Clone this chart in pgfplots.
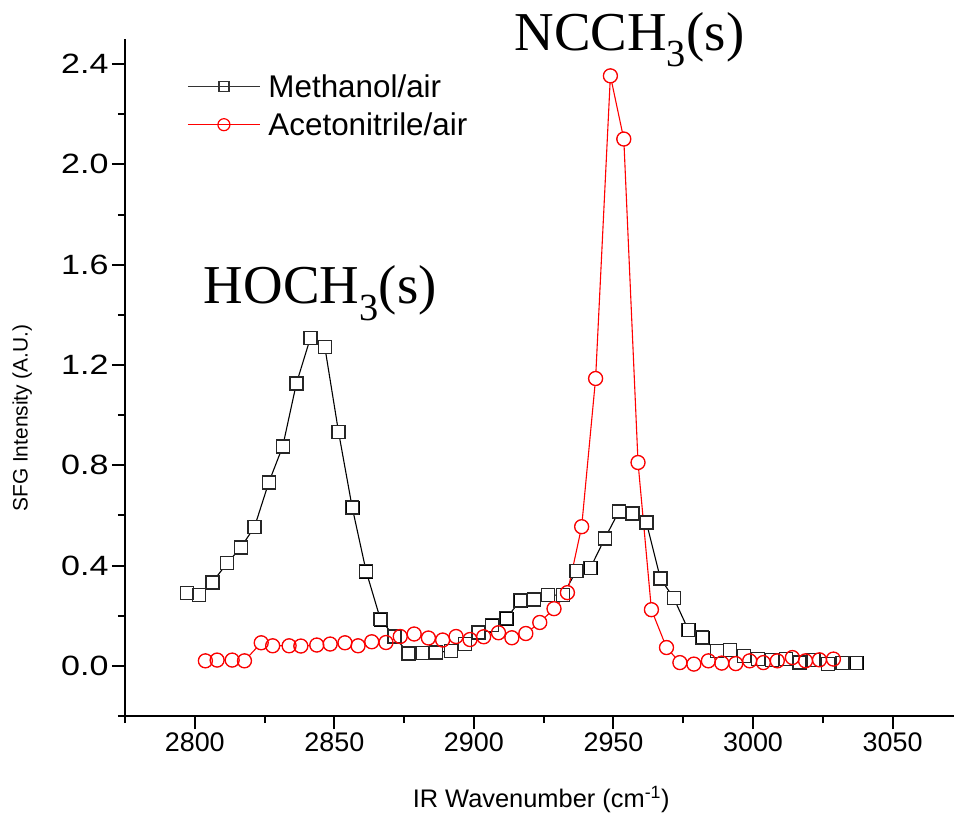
\documentclass[border=0pt]{standalone}
\usepackage{pgfplots}
\pgfplotsset{compat=1.18}
\usepackage{pgfplotstable}
\usepackage{fontspec}
\setmainfont{Liberation Sans}
\newfontfamily\seriffont{Liberation Serif}
\newfontfamily\widefont[FakeStretch=1.22]{Liberation Sans}

% SFG spectra: wavenumber (cm^-1) and intensity (A.U.)
\pgfplotstableread{
x y
2797.2 0.290
2801.4 0.282
2806.3 0.333
2811.6 0.410
2816.5 0.472
2821.4 0.554
2826.5 0.731
2831.5 0.875
2836.4 1.126
2841.4 1.307
2846.6 1.271
2851.5 0.933
2856.4 0.632
2861.4 0.377
2866.5 0.186
2871.5 0.117
2876.6 0.049
2881.6 0.052
2886.4 0.053
2891.8 0.060
2896.8 0.087
2901.6 0.133
2906.4 0.162
2911.6 0.190
2916.6 0.260
2921.5 0.264
2926.6 0.282
2931.9 0.282
2936.7 0.379
2941.7 0.390
2946.9 0.508
2951.9 0.615
2956.8 0.608
2961.8 0.572
2966.8 0.349
2971.6 0.270
2976.8 0.144
2981.8 0.113
2987.0 0.060
2991.7 0.063
2996.8 0.040
3001.7 0.027
3006.7 0.023
3011.7 0.027
3016.6 0.013
3021.7 0.023
3026.8 0.007
3032.1 0.011
3037.0 0.012
}\methanol

\pgfplotstableread{
x y
2803.8 0.020
2808.0 0.023
2813.4 0.023
2817.8 0.020
2823.8 0.092
2827.9 0.080
2833.8 0.080
2838.0 0.079
2843.7 0.083
2848.5 0.087
2853.8 0.092
2858.5 0.080
2863.4 0.096
2868.5 0.093
2873.6 0.117
2878.6 0.127
2883.7 0.111
2888.8 0.103
2893.6 0.117
2898.6 0.105
2903.5 0.116
2908.8 0.132
2913.6 0.112
2918.6 0.129
2923.6 0.173
2928.7 0.228
2933.5 0.292
2938.6 0.555
2943.6 1.146
2948.9 2.353
2953.7 2.101
2958.8 0.811
2963.6 0.224
2969.0 0.073
2973.8 0.013
2978.8 0.007
2984.0 0.020
2988.8 0.011
2993.8 0.009
2998.8 0.020
3003.7 0.013
3008.7 0.020
3014.1 0.033
3018.8 0.020
3023.8 0.024
3028.8 0.027
}\acetonitrile

\begin{document}
\begin{tikzpicture}
\begin{axis}[
  at={(0,0)}, anchor=south west,
  scale only axis,
  width=829bp, height=677bp,
  xmin=2775, xmax=3072,
  ymin=-0.2, ymax=2.5,
  axis x line*=bottom,
  axis y line*=left,
  axis line style={line width=2.2bp, black},
  xtick={2800,2850,...,3050},
  minor xtick={2775,2825,...,3075},
  ytick={0,0.4,...,2.41},
  minor ytick={-0.2,0.2,0.6,1.0,1.4,1.8,2.2},
  tick align=outside,
  major tick length=13bp,
  minor tick length=7bp,
  tick style={line width=2bp, black},
  /pgf/number format/assume math mode=true,
  xticklabel style={/pgf/number format/1000 sep={}, font=\fontsize{27}{30}\selectfont},
  yticklabel style={/pgf/number format/fixed, /pgf/number format/fixed zerofill,
    /pgf/number format/precision=1, font=\widefont\fontsize{28}{31}\selectfont},
  xlabel={IR Wavenumber (cm\textsuperscript{-1})},
  ylabel={SFG Intensity (A.U.)},
  xlabel style={font=\fontsize{25.5}{29}\selectfont, at={(axis description cs:0.502,-0.124)}, anchor=center},
  ylabel style={font=\fontsize{21}{24}\selectfont, at={(axis description cs:-0.124,0.44)}, anchor=center},
  legend style={at={(0.075,0.951)}, anchor=north west, draw=none, fill=none,
    font=\fontsize{31.5}{35}\selectfont, row sep=10bp, inner sep=0pt,
    /tikz/every odd column/.append style={column sep=6bp}},
  legend cell align=left,
  legend image code/.code={
    \draw[mark repeat=2, mark phase=2, #1] plot coordinates {(0bp,0bp) (36bp,0bp) (72bp,0bp)};
  },
  clip=false,
]
% connecting lines
\addplot[black, line width=1.1bp, forget plot] table[x=x, y=y] {\methanol};
\addplot[red, line width=1.1bp, forget plot] table[x=x, y=y] {\acetonitrile};
% hollow markers: white interiors first, then outlines
\addplot[only marks, mark=square*, mark size=6.5bp, mark options={draw=none, fill=white}, forget plot] table[x=x, y=y] {\methanol};
\addplot[only marks, mark=*, mark size=7bp, mark options={draw=none, fill=white}, forget plot] table[x=x, y=y] {\acetonitrile};
\addplot[only marks, mark=square, mark size=6.5bp, mark options={draw=black!85, line width=1.35bp}, forget plot] table[x=x, y=y] {\methanol};
\addplot[only marks, mark=o, mark size=7bp, mark options={draw=red, line width=1.3bp}, forget plot] table[x=x, y=y] {\acetonitrile};

\addlegendimage{black!80, line width=1.1bp, mark=square, mark size=5bp, mark options={fill=white, line width=1.3bp}}
\addlegendentry{Methanol/air}
\addlegendimage{red, line width=1.1bp, mark=o, mark size=6bp, mark options={fill=white, line width=1.2bp}}
\addlegendentry{Acetonitrile/air}

\node[anchor=base west, inner sep=0pt, font=\seriffont\fontsize{55}{60}\selectfont]
  at (axis cs:2803.2,1.446) {HOCH\textsubscript{3}(s)};
\node[anchor=base west, inner sep=0pt, font=\seriffont\fontsize{55}{60}\selectfont]
  at (axis cs:2914.5,2.456) {NCCH\textsubscript{3}(s)};
\end{axis}
\pgfresetboundingbox
\path[use as bounding box] (-125bp,-102bp) rectangle (829bp,716bp);
\end{tikzpicture}
\end{document}
